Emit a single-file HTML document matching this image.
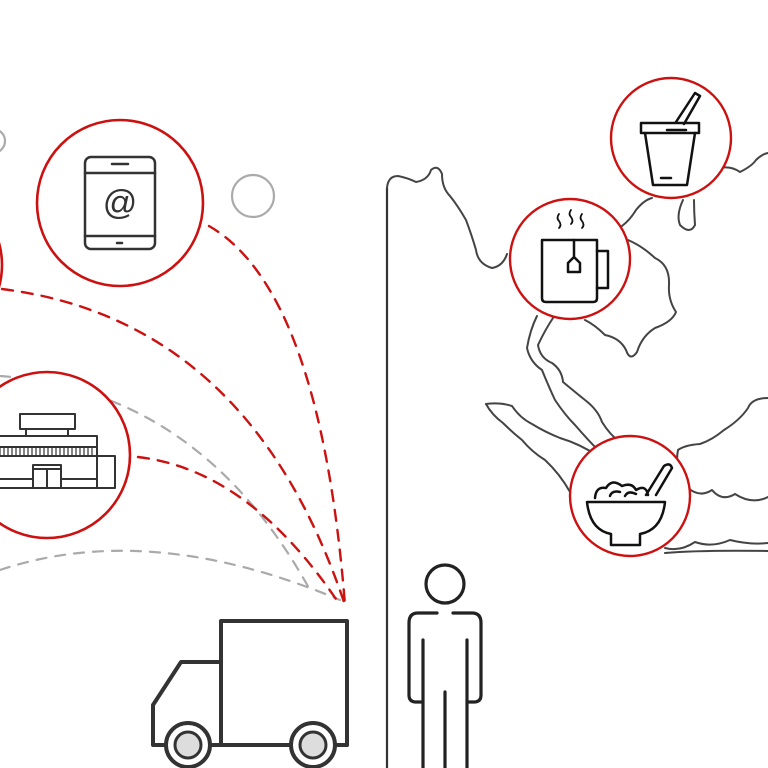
<!DOCTYPE html>
<html><head><meta charset="utf-8"><style>html,body{margin:0;padding:0;background:#fff}svg{display:block}</style></head><body>
<svg width="768" height="768" viewBox="0 0 768 768" xmlns="http://www.w3.org/2000/svg">
<g fill="none" stroke-linecap="round" stroke-linejoin="round">
<g stroke="#aaa" stroke-width="2.2" stroke-dasharray="10 9">
<path d="M0,376 Q200,390 310,590"/>
<path d="M0,570 Q150,520 340,600"/>
</g>
<g stroke="#cc1111" stroke-width="2.4" stroke-dasharray="11 9">
<path d="M209,226 Q320,290 345,605"/>
<path d="M2,289 Q250,320 345,605"/>
<path d="M138,457 Q250,470 340,605"/>
</g>
<circle cx="253" cy="196" r="21" stroke="#aaa" stroke-width="2.2"/>
<circle cx="-7" cy="141" r="12" stroke="#aaa" stroke-width="2.2"/>
<g stroke="#cc1111" stroke-width="2.6" fill="#fff">
<circle cx="120" cy="203" r="83"/>
<circle cx="-81" cy="265" r="83"/>
<circle cx="47" cy="455" r="83"/>
</g>
<g stroke="#333" stroke-width="2.5">
<rect x="85" y="157" width="70" height="92" rx="6"/>
<line x1="85" y1="173" x2="155" y2="173"/><line x1="85" y1="236" x2="155" y2="236"/>
<line x1="112" y1="164" x2="128" y2="164"/><line x1="117" y1="243" x2="122" y2="243"/>
</g>
<text x="120" y="214" font-family="Liberation Sans, sans-serif" font-size="34" fill="#333" text-anchor="middle">@</text>
<g stroke="#333" stroke-width="2">
<rect x="20" y="414" width="55" height="15"/>
<line x1="26" y1="429" x2="26" y2="436"/><line x1="68" y1="429" x2="68" y2="436"/>
<rect x="-5" y="436" width="102" height="52"/>
<line x1="-5" y1="447" x2="97" y2="447"/><line x1="-5" y1="456" x2="97" y2="456"/>
<path d="M0,447 V456 M4,447 V456 M8,447 V456 M12,447 V456 M16,447 V456 M20,447 V456 M24,447 V456 M28,447 V456 M32,447 V456 M36,447 V456 M40,447 V456 M44,447 V456 M48,447 V456 M52,447 V456 M56,447 V456 M60,447 V456 M64,447 V456 M68,447 V456 M72,447 V456 M76,447 V456 M80,447 V456 M84,447 V456 M88,447 V456 M92,447 V456" stroke-width="1.2"/>
<rect x="97" y="456" width="18" height="32"/>
<rect x="33" y="465" width="28" height="23"/><line x1="47" y1="469" x2="47" y2="488"/><line x1="33" y1="469" x2="61" y2="469"/>
<line x1="-5" y1="479" x2="33" y2="479"/><line x1="61" y1="479" x2="97" y2="479"/>
</g>
<g stroke="#333" stroke-width="4">
<rect x="221" y="621" width="126" height="124"/>
<path d="M221,662 H181 L153,705 V745 H347"/>
<circle cx="188" cy="745" r="22" fill="#fff"/><circle cx="188" cy="745" r="13" fill="#ddd" stroke-width="3"/>
<circle cx="313" cy="745" r="22" fill="#fff"/><circle cx="313" cy="745" r="13" fill="#ddd" stroke-width="3"/>
</g>
<line x1="387" y1="188" x2="387" y2="768" stroke="#333" stroke-width="2.2"/>
<g stroke="#444" stroke-width="2">
<path d="M387,188 Q388,176 398,176 Q408,178 416,182 Q428,180 431,170 Q438,164 442,174 Q442,188 450,196 Q458,206 466,220 Q472,236 476,250 Q478,264 492,268 Q503,266 507,254"/>
<path d="M622,226 Q630,220 636,210 Q644,200 652,198"/>
<path d="M714,170 Q728,164 740,172 Q752,166 756,160 Q762,154 768,153"/>
<path d="M683,200 Q676,215 680,225 Q690,235 695,225 Q694,212 694,200"/>
<path d="M628,240 Q642,246 655,258 Q670,265 669,285 Q668,300 676,312 Q672,322 655,328 Q642,336 637,352 Q630,362 626,350 Q620,338 605,335 Q595,325 585,320"/>
<path d="M537,316 Q530,330 527,348 Q530,362 542,370 Q548,385 555,400 Q565,415 575,425 Q588,440 598,450"/>
<path d="M553,318 Q545,330 538,345 Q540,358 552,363 Q562,370 563,382 Q575,392 585,400 Q598,410 602,422 Q610,435 620,442"/>
<path d="M486,404 Q500,402 512,406 Q520,418 532,424 Q545,432 560,438 Q580,444 598,456"/>
<path d="M486,404 Q492,415 503,423 Q512,432 522,440 Q532,452 545,460 Q560,474 570,492"/>
<path d="M768,398 Q752,398 748,408 Q740,420 724,430 Q712,440 700,444 Q685,445 678,450 Q674,470 688,488 Q700,498 712,490 Q722,502 735,494 Q752,505 768,497"/>
<path d="M665,548 Q680,552 695,542 Q712,548 730,540 Q750,545 768,543"/>
<path d="M665,553 Q700,550 768,551"/>
</g>
<g stroke="#cc1111" stroke-width="2.4" fill="#fff">
<circle cx="671" cy="138" r="60"/>
<circle cx="570" cy="259" r="60"/>
<circle cx="630" cy="496" r="60"/>
</g>
<g stroke="#111" stroke-width="2.5">
<rect x="641" y="123" width="58" height="10"/>
<path d="M645,133 L653,185 H687 L695,133"/>
<line x1="661" y1="178" x2="671" y2="178"/><line x1="667" y1="130" x2="686" y2="130"/>
<path d="M676,122 L695,93 L700,96 L684,124"/>
<path d="M542,240 H597 V298 Q597,302 593,302 H546 Q542,302 542,298 Z"/>
<path d="M597,251 H608 V288 H597"/>
<path d="M574,240 V257 M568,272 V263 L574,257 L580,263 V272 Z"/>
<path d="M559,214 q-3,4 0,7 q3,4 0,7 M571,210 q-3,4 0,7 q3,4 0,7 M582,214 q-3,4 0,7 q3,4 0,7" stroke-width="1.8"/>
<path d="M587,502 H665 Q662,530 640,534 V545 H611 V534 Q590,530 587,502 Z"/>
<path d="M595,498 Q596,486 606,488 Q612,478 622,486 Q632,482 636,490 Q646,484 648,495"/>
<path d="M610,496 Q612,490 620,492 M625,496 Q628,490 636,494"/>
<path d="M646,495 L664,466 Q670,462 672,468 L656,495"/>
</g>
<g stroke="#222" stroke-width="3.2">
<circle cx="445" cy="584" r="19"/>
<path d="M437,613 H418 Q409,613 409,623 V695 Q409,702 416,702 H421"/>
<path d="M453,613 H472 Q481,613 481,623 V695 Q481,702 474,702 H469"/>
<path d="M423,640 V768 M467,640 V768 M445,692 V768"/>
</g>
</g>
</svg>
</body></html>
